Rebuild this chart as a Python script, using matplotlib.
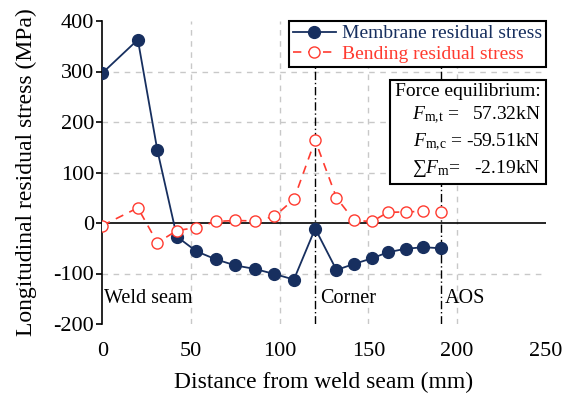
import matplotlib
matplotlib.use('Agg')
import matplotlib.pyplot as plt

# Datos
distancia = [0, 20, 31, 42, 53, 64, 75, 86, 97, 108, 120, 132, 142, 152, 161, 171, 181, 191]
membrana = [297, 363, 144, -27, -56, -72, -84, -91, -101, -112, -11, -93, -81, -70, -58, -51, -48, -50]
flexion = [-5, 30, -39, -15, -9, 3, 5, 4, 13, 47, 164, 50, 5, 3, 21, 22, 23, 22]

x_corner = 120
x_aos = 191
etiquetas_pos = [(1, 'Weld seam'), (123, 'Corner'), (193, 'AOS')]

color_mem = '#172f5f'
color_flex = '#ff3b30'

plt.rcParams['font.family'] = ['Liberation Serif', 'DejaVu Serif']
plt.rcParams['mathtext.fontset'] = 'custom'
plt.rcParams['mathtext.rm'] = 'Liberation Serif'
plt.rcParams['mathtext.it'] = 'Liberation Serif:italic'
plt.rcParams['axes.unicode_minus'] = False

fig = plt.figure(figsize=(5.72, 4.0), dpi=100)
ax = fig.add_axes([0.179, 0.19, 0.775, 0.7575])

ax.plot(distancia, membrana, '-o', color=color_mem, lw=1.3, ms=8.5,
        label='Membrane residual stress', zorder=4)
ax.plot(distancia, flexion, 'o', ls=(0, (5, 4)), color=color_flex, lw=1.2, ms=8,
        mfc='white', mew=1.0, label='Bending residual stress', zorder=5)

ax.axhline(0, color='black', lw=1.2, zorder=2)
for xv in (x_corner, x_aos):
    ax.axvline(xv, color='black', lw=1.0, ls=(0, (6, 2, 1, 2)), zorder=2)

for xp, txt in etiquetas_pos:
    ax.text(xp, -150, txt, fontsize=14.5, va='center', ha='left')

ax.set_xlim(0, 250)
ax.set_ylim(-200, 400)
ax.set_xticks([0, 50, 100, 150, 200, 250])
ax.set_yticks([-200, -100, 0, 100, 200, 300, 400])

ax.grid(True, color='#c8c8c8', ls=(0, (4, 4)), lw=1.0)
ax.set_axisbelow(True)
for gl in [ax.xaxis.get_gridlines()[0], ax.xaxis.get_gridlines()[-1],
           ax.yaxis.get_gridlines()[0], ax.yaxis.get_gridlines()[-1],
           ax.yaxis.get_gridlines()[2]]:
    gl.set_visible(False)

for s in ['top', 'right', 'bottom']:
    ax.spines[s].set_visible(False)
ax.spines['left'].set_linewidth(1.2)
ax.tick_params(axis='y', direction='out', length=4, width=1.2, labelsize=16, pad=2)
ax.tick_params(axis='x', length=0, labelsize=16, pad=13)

ax.set_xlabel('Distance from weld seam (mm)', fontsize=17, labelpad=8)
ax.set_ylabel('Longitudinal residual stress (MPa)', fontsize=17)
ax.yaxis.set_label_coords(-0.148, 0.5)

leg = ax.legend(loc='upper right', borderaxespad=0, fontsize=14, numpoints=1,
                handlelength=2.2, handletextpad=0.3, borderpad=0.2,
                labelspacing=0.15, fancybox=False, framealpha=1)
leg.get_frame().set_edgecolor('black')
leg.get_frame().set_linewidth(1.5)
for t, c in zip(leg.get_texts(), [color_mem, color_flex]):
    t.set_color(c)

texto = ('Force equilibrium:\n'
         r'$F_{\rm m{,}t}$ =   57.32kN' '\n'
         r'$F_{\rm m{,}c}$ = -59.51kN' '\n'
         '\u2211' r'$F_{\rm m}$=   -2.19kN')
ax.text(0.989, 0.795, texto, transform=ax.transAxes, fontsize=14,
        ha='right', va='top', multialignment='right', linespacing=1.35,
        bbox=dict(boxstyle='square,pad=0.25', fc='white', ec='black', lw=1.5),
        zorder=6)

fig.savefig('out.png', dpi=100)
